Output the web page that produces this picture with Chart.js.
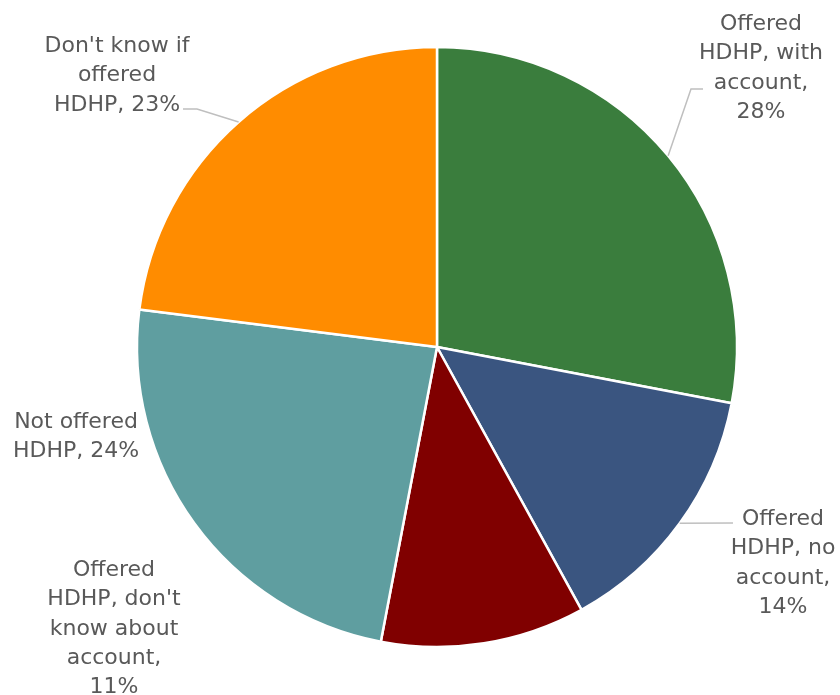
<!DOCTYPE html>
<html>
<head>
<meta charset="utf-8">
<script src="https://cdn.jsdelivr.net/npm/chart.js@4.4.1/dist/chart.umd.min.js"></script>
<style>
  html, body { margin: 0; padding: 0; background: #ffffff; }
  #wrap { width: 840px; height: 695px; position: relative; }
</style>
</head>
<body>
<div id="wrap"><canvas id="c" width="840" height="695"></canvas></div>
<script>
// HDHP offer / account status (share of respondents, %)
const categories = [
  "Offered HDHP, with account",
  "Offered HDHP, no account",
  "Offered HDHP, don't know about account",
  "Not offered HDHP",
  "Don't know if offered HDHP"
];
const values = [28, 14, 11, 24, 23];
const colors = ["#3A7D3D", "#3A5580", "#800000", "#5F9EA0", "#FF8C00"];

// Label placement relative to the pie centre: text centre x, first baseline y,
// wrap width, and optional leader-line bend points (the leader starts on the rim).
const labelLayout = [
  { dx: 324, dy: -317, wrap: 135, leader: [[254, -258], [266, -258]] },
  { dx: 346, dy: 178,  wrap: 120, leader: [[296, 176]] },
  { dx: -323, dy: 229, wrap: 145, leader: null },
  { dx: -361, dy: 81,  wrap: 140, leader: null },
  { dx: -320, dy: -295, wrap: 152, leader: [[-240, -238], [-254, -238]] }
];

const FONT = '22px "DejaVu Sans", "Liberation Sans", sans-serif';
const LINE_H = 29.3;

function wrapText(ctx, text, maxW) {
  const words = text.split(' ');
  const lines = [];
  let cur = '';
  for (const w of words) {
    const t = cur ? cur + ' ' + w : w;
    if (cur && ctx.measureText(t).width > maxW) { lines.push(cur); cur = w; }
    else cur = t;
  }
  if (cur) lines.push(cur);
  return lines;
}

const outsideLabels = {
  id: 'outsideLabels',
  afterDatasetsDraw(chart) {
    const ctx = chart.ctx;
    const meta = chart.getDatasetMeta(0);
    ctx.save();
    ctx.font = FONT;
    meta.data.forEach((arc, i) => {
      const p = arc.getProps(['x', 'y', 'startAngle', 'endAngle', 'outerRadius'], true);
      const lay = labelLayout[i];
      const mid = (p.startAngle + p.endAngle) / 2;
      if (lay.leader) {
        ctx.beginPath();
        ctx.strokeStyle = '#BFBFBF';
        ctx.lineWidth = 1.5;
        ctx.moveTo(p.x + Math.cos(mid) * p.outerRadius, p.y + Math.sin(mid) * p.outerRadius);
        lay.leader.forEach(pt => ctx.lineTo(p.x + pt[0], p.y + pt[1]));
        ctx.stroke();
      }
      const text = categories[i] + ', ' + values[i] + '%';
      const lines = wrapText(ctx, text, lay.wrap);
      ctx.fillStyle = '#595959';
      ctx.textAlign = 'center';
      ctx.textBaseline = 'alphabetic';
      lines.forEach((ln, k) => {
        ctx.fillText(ln, p.x + lay.dx, p.y + lay.dy + k * LINE_H);
      });
    });
    ctx.restore();
  }
};

new Chart(document.getElementById('c'), {
  type: 'pie',
  data: {
    labels: categories,
    datasets: [{
      data: values,
      backgroundColor: colors,
      borderColor: '#ffffff',
      borderWidth: 2.5
    }]
  },
  options: {
    responsive: false,
    animation: false,
    radius: 300,
    layout: { padding: { left: 34, right: 0, top: 0, bottom: 1 } },
    plugins: {
      legend: { display: false },
      tooltip: { enabled: false }
    }
  },
  plugins: [outsideLabels]
});
</script>
</body>
</html>
